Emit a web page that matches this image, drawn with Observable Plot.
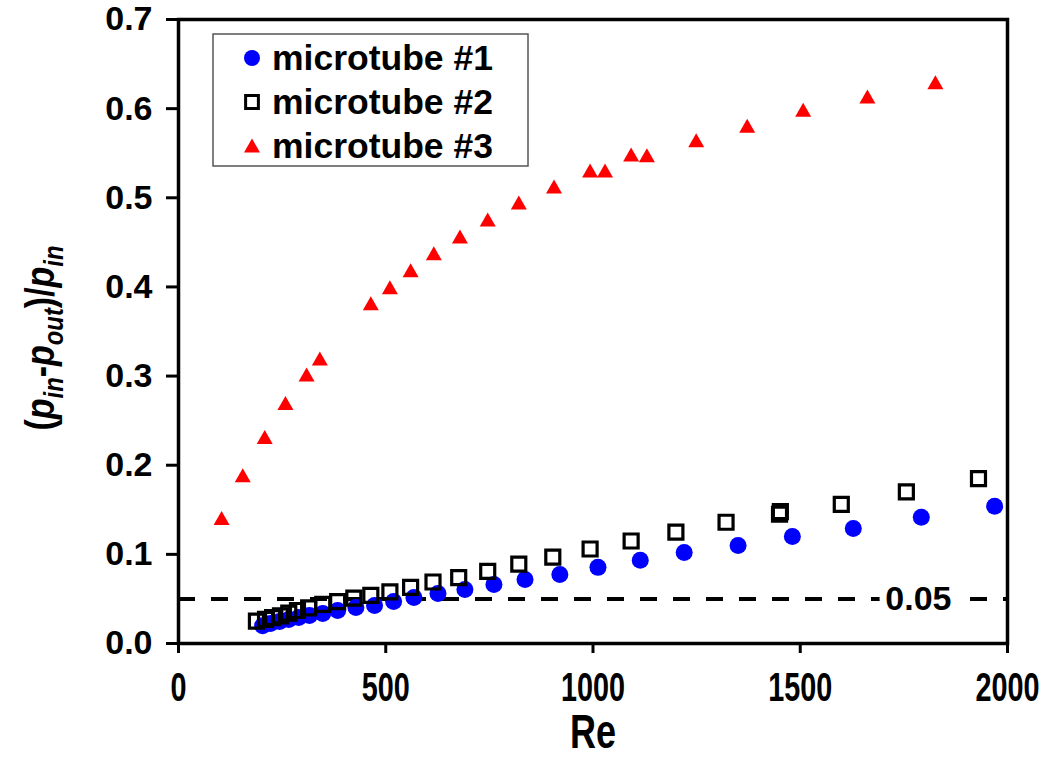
<!DOCTYPE html>
<html>
<head>
<meta charset="utf-8">
<script src="https://cdn.jsdelivr.net/npm/d3@7"></script>
<script src="https://cdn.jsdelivr.net/npm/@observablehq/plot@0.6"></script>
<style>
  html, body { margin: 0; padding: 0; background: #fff; }
  #chart { position: relative; width: 1054px; height: 759px; }
</style>
</head>
<body>
<div id="chart"></div>
<script>
// ---- data ----
const seriesNames = ["microtube #1", "microtube #2", "microtube #3"];

const re1 = [203, 222, 244, 266, 290, 316, 348, 384, 428, 473, 519, 568, 626, 691, 761, 836, 920, 1012, 1114, 1220, 1350, 1481, 1628, 1792, 1969];
const val1 = [0.020, 0.0225, 0.0247, 0.027, 0.0292, 0.0315, 0.0337, 0.037, 0.0404, 0.0427, 0.0472, 0.0517, 0.0562, 0.0607, 0.0663, 0.0719, 0.0775, 0.0854, 0.0933, 0.1022, 0.110, 0.120, 0.129, 0.1416, 0.154];

const re2 = [188, 210, 227, 246, 266, 287, 314, 348, 384, 423, 464, 510, 560, 614, 676, 746, 821, 903, 993, 1092, 1200, 1321, 1450, 1452, 1599, 1756, 1930];
const val2 = [0.025, 0.027, 0.029, 0.031, 0.034, 0.037, 0.040, 0.044, 0.047, 0.051, 0.054, 0.058, 0.063, 0.069, 0.074, 0.081, 0.089, 0.097, 0.106, 0.115, 0.125, 0.136, 0.145, 0.148, 0.156, 0.170, 0.185];

const re3 = [104, 155, 208, 258, 309, 341, 464, 510, 560, 616, 679, 746, 821, 906, 993, 1029, 1092, 1130, 1249, 1372, 1507, 1662, 1826];
const val3 = [0.140, 0.188, 0.231, 0.269, 0.301, 0.319, 0.381, 0.399, 0.418, 0.437, 0.456, 0.475, 0.494, 0.512, 0.530, 0.530, 0.548, 0.547, 0.564, 0.580, 0.598, 0.613, 0.629];

const xTicks = [0, 500, 1000, 1500, 2000];
const yTicks = [0, 0.1, 0.2, 0.3, 0.4, 0.5, 0.6, 0.7];
const threshold = 0.05;
const thresholdLabel = "0.05";
const thresholdLabelRe = 1785;

const colors = ["#0000FF", "#000000", "#FF0000"];

// ---- tables ----
const d1 = re1.map((x, i) => ({x, y: val1[i]}));
const d2 = re2.map((x, i) => ({x, y: val2[i]}));
const d3s = re3.map((x, i) => ({x, y: val3[i]}));

// custom symbols
const squareSym = {draw(ctx, size) { const s = Math.sqrt(size) / 2; ctx.moveTo(-s, -s); ctx.lineTo(s, -s); ctx.lineTo(s, s); ctx.lineTo(-s, s); ctx.closePath(); }};
const triSym = {draw(ctx, size) { const r = Math.sqrt(size / Math.PI); ctx.moveTo(0, -0.95 * r); ctx.lineTo(r, 0.8 * r); ctx.lineTo(-r, 0.8 * r); ctx.closePath(); }};

const FONT = "'Liberation Sans', Arial, Helvetica, sans-serif";

const chart = Plot.plot({
  width: 1054,
  height: 759,
  marginLeft: 178,
  marginRight: 47,
  marginTop: 19,
  marginBottom: 116,
  style: {fontFamily: FONT, fontWeight: "bold", background: "white", color: "black", overflow: "visible"},
  x: {domain: [0, 2000]},
  y: {domain: [0, 0.7]},
  marks: [
    Plot.ruleY([threshold], {stroke: "black", strokeWidth: 4, strokeDasharray: "17,16"}),
    Plot.text([threshold], {x: () => thresholdLabelRe, y: d => d, text: () => thresholdLabel, fontSize: 34, fontWeight: "bold", fill: "black", stroke: "white", strokeWidth: 14}),
    Plot.dot(d1, {x: "x", y: "y", r: 8.5, fill: colors[0], symbol: "circle"}),
    Plot.dot(d2, {x: "x", y: "y", r: 7.9, symbol: squareSym, stroke: colors[1], strokeWidth: 3.2, fill: "none"}),
    Plot.dot(d3s, {x: "x", y: "y", r: 8, symbol: triSym, fill: colors[2], stroke: "none"}),
    Plot.frame({stroke: "black", strokeWidth: 3.5}),
    Plot.axisY({ticks: yTicks, tickSize: 12, tickPadding: 14, tickFormat: d3.format(".1f"), strokeWidth: 3, label: null, fontSize: 34}),
    Plot.axisX({ticks: xTicks, tickSize: 10, tickPadding: 19, tickFormat: d => String(d), strokeWidth: 3, label: null, fontSize: 40}),
    Plot.text(["Re"], {frameAnchor: "bottom", dy: 104, text: d => d, fontSize: 48, fontWeight: "bold", fill: "black"})
  ]
});

document.getElementById("chart").appendChild(chart);

const svg = d3.select(chart);

// style tick labels
svg.selectAll('g[aria-label="y-axis tick label"]').attr("font-size", 34).attr("font-weight", "bold");
svg.selectAll('g[aria-label="x-axis tick label"]').attr("font-size", 40).attr("font-weight", "bold");
svg.selectAll('g[aria-label="x-axis tick label"] text').each(function() {
  const t = this.getAttribute("transform") || "";
  this.setAttribute("transform", t + " scale(0.72,1)");
});

// condensed "Re"
svg.selectAll('text').filter(function() { return this.textContent === "Re"; }).each(function() {
  const t = this.getAttribute("transform") || "";
  this.setAttribute("transform", t + " scale(0.75,1)");
});

// y-axis title with italic p and subscripts
const yTitle = svg.append("text")
  .attr("transform", "translate(54,338) rotate(-90) scale(0.85,1)")
  .attr("text-anchor", "middle")
  .attr("font-family", FONT)
  .attr("font-weight", "bold")
  .attr("font-size", 40)
  .attr("fill", "black");
const parts = [
  {t: "(", i: false, sub: false},
  {t: "p", i: true, sub: false},
  {t: "in", i: true, sub: true},
  {t: "-", i: false, sub: false},
  {t: "p", i: true, sub: false},
  {t: "out", i: true, sub: true},
  {t: ")/", i: false, sub: false},
  {t: "p", i: true, sub: false},
  {t: "in", i: true, sub: true}
];
let prevSub = false;
parts.forEach(p => {
  const ts = yTitle.append("tspan").text(p.t);
  if (p.i) ts.attr("font-style", "italic");
  if (p.sub) { ts.attr("font-size", 28); if (!prevSub) ts.attr("dy", 9); }
  else if (prevSub) ts.attr("dy", -9);
  prevSub = p.sub;
});

// legend
const lg = svg.append("g").attr("aria-label", "legend");
lg.append("rect").attr("x", 213).attr("y", 34).attr("width", 315).attr("height", 132)
  .attr("fill", "white").attr("stroke", "#555").attr("stroke-width", 1.5);
const syms = [d3.symbol(d3.symbolCircle, Math.PI * 8 * 8), d3.symbol(squareSym, Math.PI * 7.2 * 7.2), d3.symbol(triSym, Math.PI * 8 * 8)];
seriesNames.forEach((name, i) => {
  const cy = 58 + i * 44;
  const path = lg.append("path").attr("d", syms[i]()).attr("transform", `translate(252,${cy})`);
  if (i === 1) path.attr("fill", "none").attr("stroke", "black").attr("stroke-width", 3);
  else path.attr("fill", colors[i]);
  lg.append("text").attr("x", 272).attr("y", cy).attr("dy", "0.35em")
    .attr("text-anchor", "start")
    .attr("font-family", FONT).attr("font-weight", "bold").attr("font-size", 35.5).attr("fill", "black")
    .text(name);
});
</script>
</body>
</html>
